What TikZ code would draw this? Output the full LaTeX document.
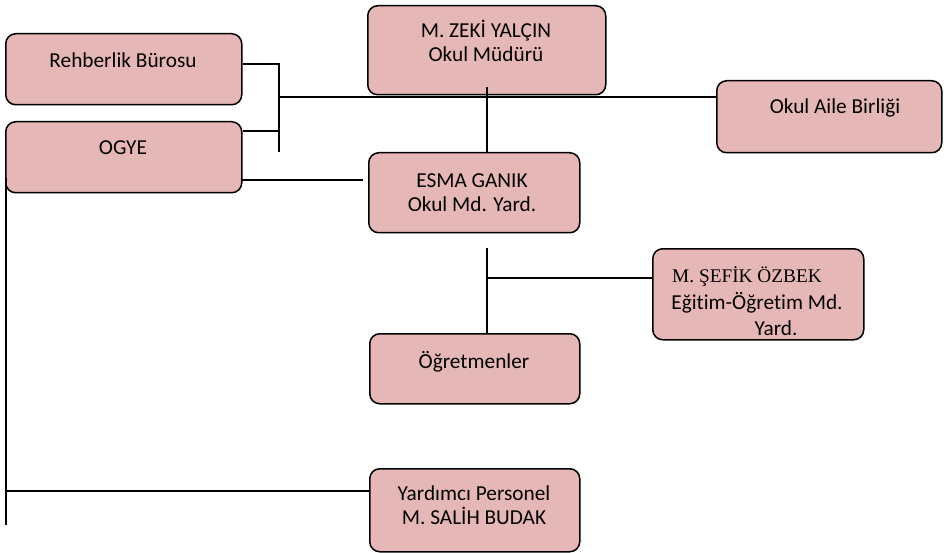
\documentclass[tikz,border=0pt]{standalone}
\usepackage{fontspec}
\setmainfont[Ligatures=NoCommon]{Carlito}
\newfontfamily\timesf{Liberation Serif}
\definecolor{boxpink}{RGB}{229,183,182}
\tikzset{
  orgbox/.style={draw=black, fill=boxpink, line width=1.5pt, rounded corners=10pt, inner sep=0pt, anchor=north west},
  txt/.style={font=\fontsize{21.3}{24}\selectfont, inner sep=0pt, align=center},
  ttxt/.style={font=\timesf\fontsize{19.3}{22}\selectfont, inner sep=0pt},
  conn/.style={line width=1.5pt}
}
\begin{document}
\begin{tikzpicture}[x=1pt,y=-1pt]
\useasboundingbox (0,0) rectangle (944,553);
% boxes
\node[orgbox, minimum width=236pt, minimum height=71pt] (reh) at (5,33) {};
\node[orgbox, minimum width=236pt, minimum height=71pt] (ogye) at (5,121) {};
\node[orgbox, minimum width=238pt, minimum height=89pt] (zeki) at (367,5) {};
\node[orgbox, minimum width=225pt, minimum height=72pt] (aile) at (716,80) {};
\node[orgbox, minimum width=211pt, minimum height=80pt] (esma) at (368,152) {};
\node[orgbox, minimum width=211pt, minimum height=91pt] (sefik) at (652,248) {};
\node[orgbox, minimum width=210pt, minimum height=70pt] (ogr) at (369,333) {};
\node[orgbox, minimum width=210pt, minimum height=83pt] (yard) at (369,468) {};
% texts
\node[txt] (trehb) at (123,60) {Rehberlik Bürosu};
\node[txt] (togye) at (123,148) {OGYE};
\node[txt] (tzeki) at (486,41) {M. ZEKİ YALÇIN\\Okul Müdürü};
\node[txt] (taile) at (835,108) {Okul Aile Birliği};
\node[txt] (tesma) at (472,193) {ESMA GANIK\\Okul Md. Yard.};
\node[ttxt] (tsef1) at (747,277) {M. ŞEFİK ÖZBEK};
\node[txt] (tsef2) at (757,303) {Eğitim-Öğretim Md.};
\node[txt] (tsef3) at (776,328) {Yard.};
\node[txt] (togr) at (474,362) {Öğretmenler};
\node[txt] (tyard) at (474,505) {Yardımcı Personel\\M. SALİH BUDAK};
% junction coordinates
\coordinate (rj) at (279,64);
\coordinate (oj) at (279,131);
\coordinate (bb) at (279,152);
\coordinate (hj) at (279,97);
\coordinate (zt) at (487,87);
\coordinate (ol) at (241,180);
\coordinate (oe) at (363,180);
\coordinate (lt) at (6,178);
\coordinate (lb) at (6,525);
\coordinate (ly) at (7,491);
\coordinate (et) at (487,248);
\coordinate (sj) at (487,278);
% connectors
\draw[conn] (reh.east |- rj) -- (rj) -- (bb);
\draw[conn] (ogye.east |- oj) -- (oj);
\draw[conn] (hj) -- (aile.west |- hj);
\draw[conn] (zt) -- (esma.north -| zt);
\draw[conn] (ol) -- (oe);
\draw[conn] (lt) -- (lb);
\draw[conn] (ly) -- (yard.west |- ly);
\draw[conn] (et) -- (ogr.north -| et);
\draw[conn] (sj) -- (sefik.west |- sj);
\end{tikzpicture}
\end{document}
